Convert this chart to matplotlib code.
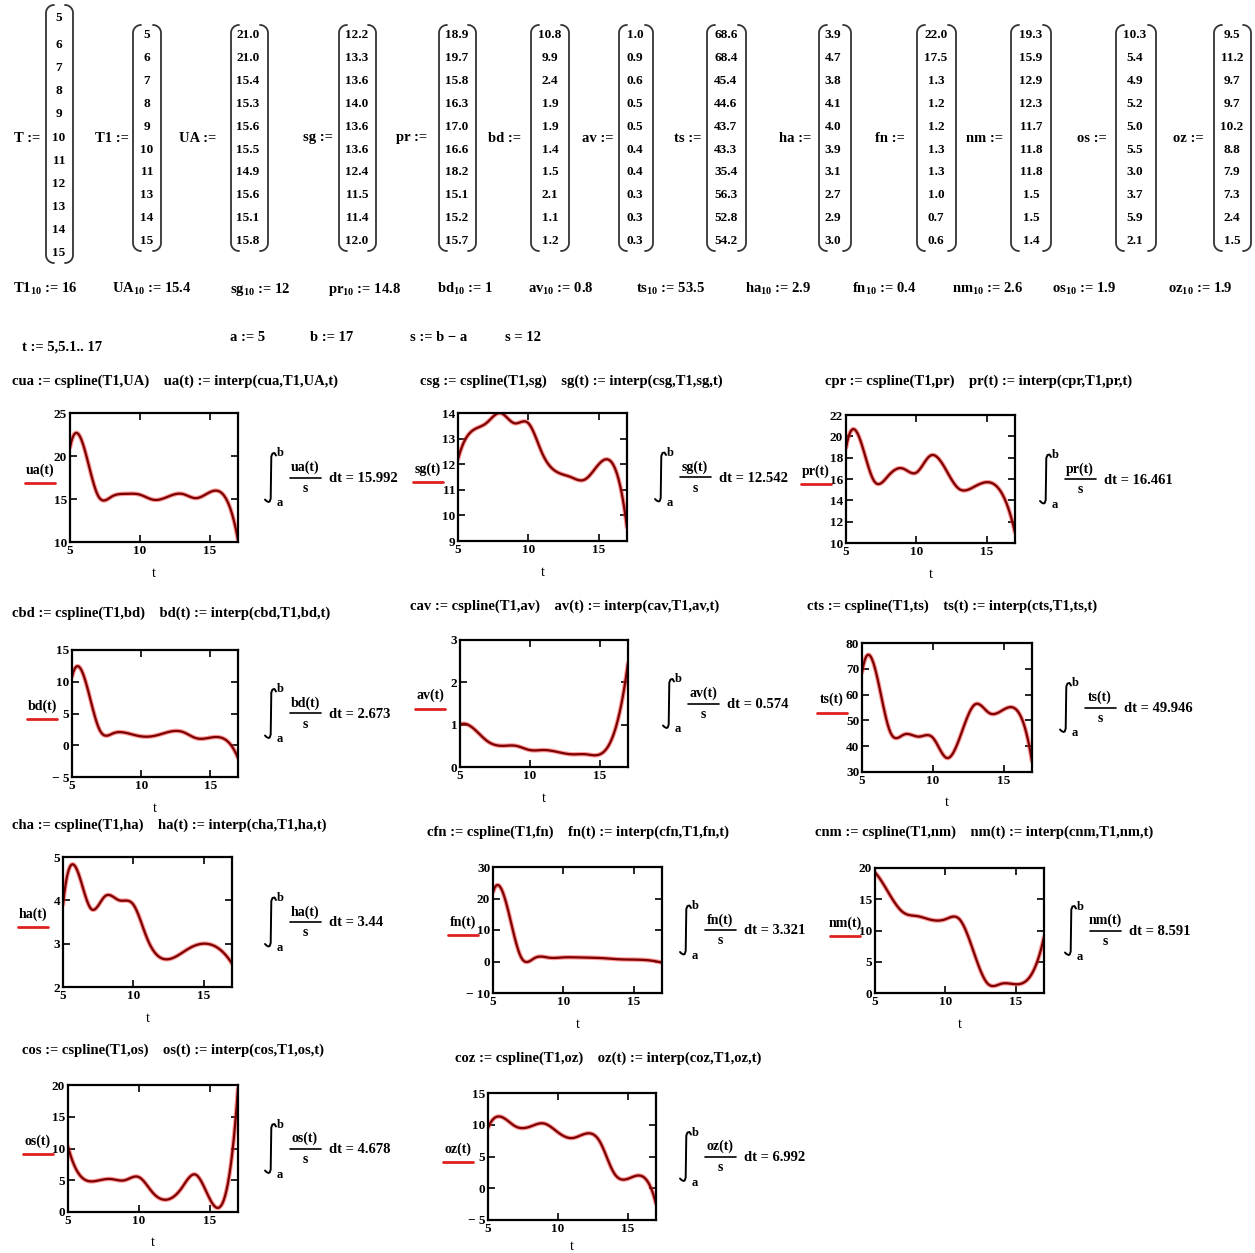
import numpy as np
import matplotlib
matplotlib.use("Agg")
import matplotlib.pyplot as plt
from matplotlib.lines import Line2D

plt.rcParams['font.family'] = ['Liberation Serif', 'DejaVu Serif']
plt.rcParams['font.weight'] = 'bold'
plt.rcParams['mathtext.fontset'] = 'custom'
plt.rcParams['mathtext.rm'] = 'Liberation Serif:bold'
plt.rcParams['mathtext.it'] = 'Liberation Serif:bold'
plt.rcParams['mathtext.bf'] = 'Liberation Serif:bold'

# datos
T = [5, 6, 7, 8, 9, 10, 11, 12, 13, 14, 15]
T1 = [5, 6, 7, 8, 9, 10, 11, 13, 14, 15]
UA = [21.0, 21.0, 15.4, 15.3, 15.6, 15.5, 14.9, 15.6, 15.1, 15.8]
sg = [12.2, 13.3, 13.6, 14.0, 13.6, 13.6, 12.4, 11.5, 11.4, 12.0]
pr = [18.9, 19.7, 15.8, 16.3, 17.0, 16.6, 18.2, 15.1, 15.2, 15.7]
bd = [10.8, 9.9, 2.4, 1.9, 1.9, 1.4, 1.5, 2.1, 1.1, 1.2]
av = [1.0, 0.9, 0.6, 0.5, 0.5, 0.4, 0.4, 0.3, 0.3, 0.3]
ts = [68.6, 68.4, 45.4, 44.6, 43.7, 43.3, 35.4, 56.3, 52.8, 54.2]
ha = [3.9, 4.7, 3.8, 4.1, 4.0, 3.9, 3.1, 2.7, 2.9, 3.0]
fn = [22.0, 17.5, 1.3, 1.2, 1.2, 1.3, 1.3, 1.0, 0.7, 0.6]
nm = [19.3, 15.9, 12.9, 12.3, 11.7, 11.8, 11.8, 1.5, 1.5, 1.4]
os_ = [10.3, 5.4, 4.9, 5.2, 5.0, 5.5, 3.0, 3.7, 5.9, 2.1]
oz = [9.5, 11.2, 9.7, 9.7, 10.2, 8.8, 7.9, 7.3, 2.4, 1.5]

# valores asignados en el indice 10
nombres = ['T1', 'UA', 'sg', 'pr', 'bd', 'av', 'ts', 'ha', 'fn', 'nm', 'os', 'oz']
extra = [16, 15.4, 12, 14.8, 1, 0.8, 53.5, 2.9, 0.4, 2.6, 1.9, 1.9]
extra_txt = ['16', '15.4', '12', '14.8', '1', '0.8', '53.5', '2.9', '0.4', '2.6', '1.9', '1.9']

integrales = ['15.992', '12.542', '16.461', '2.673', '0.574', '49.946',
              '3.44', '3.321', '8.591', '4.678', '6.992']

a, b = 5, 17
t = np.arange(5, 17.0001, 0.1)

W, H = 1255, 1253
fig = plt.figure(figsize=(12.55, 12.53), dpi=100)


def fx(x):
    return np.asarray(x) / W


def fy(y):
    return 1 - np.asarray(y) / H


def txt(x, y, s, size=10.5, ha='left', va='center', **kw):
    fig.text(fx(x), fy(y), s, fontsize=size, ha=ha, va=va, **kw)


def linea(xs, ys, color='black', lw=1.0):
    fig.add_artist(Line2D(fx(xs), fy(ys), transform=fig.transFigure, color=color, lw=lw,
                          solid_capstyle='round'))


def cspline(x, y):
    # spline cubico "not-a-knot"
    x = np.asarray(x, float)
    y = np.asarray(y, float)
    n = len(x)
    h = np.diff(x)
    A = np.zeros((n, n))
    r = np.zeros(n)
    for i in range(1, n - 1):
        A[i, i - 1] = h[i - 1]
        A[i, i] = 2 * (h[i - 1] + h[i])
        A[i, i + 1] = h[i]
        r[i] = 6 * ((y[i + 1] - y[i]) / h[i] - (y[i] - y[i - 1]) / h[i - 1])
    A[0, 0], A[0, 1], A[0, 2] = h[1], -(h[0] + h[1]), h[0]
    A[-1, -3], A[-1, -2], A[-1, -1] = h[-1], -(h[-2] + h[-1]), h[-2]
    M = np.linalg.solve(A, r)
    return x, y, M


def interp(c, tt):
    x, y, M = c
    i = np.clip(np.searchsorted(x, tt) - 1, 0, len(x) - 2)
    hh = x[i + 1] - x[i]
    u = x[i + 1] - tt
    v = tt - x[i]
    return (M[i] * u**3 / (6 * hh) + M[i + 1] * v**3 / (6 * hh)
            + (y[i] / hh - M[i] * hh / 6) * u + (y[i + 1] / hh - M[i + 1] * hh / 6) * v)


def paren(x0, x1, y0, y1):
    # parentesis de matriz
    r = 8
    for xe, sgn in ((x0, 1), (x1, -1)):
        th = np.linspace(np.pi / 2, np.pi, 20)
        top_x = xe + sgn * r + sgn * r * np.cos(th)
        top_y = y0 + r - r * np.sin(th)
        th2 = np.linspace(np.pi, 3 * np.pi / 2, 20)
        bot_x = xe + sgn * r + sgn * r * np.cos(th2)
        bot_y = y1 - r - r * np.sin(th2)
        linea(np.concatenate([top_x, bot_x]), np.concatenate([top_y, bot_y]),
              color='#333333', lw=1.3)


def integral(x, y, fname, val):
    # signo de integral dibujado a mano
    ix = [x + 11, x + 9.5, x + 7.5, x + 6.3, x + 5.7, x + 4.7, x + 3.5, x + 1.5, x]
    iy = [y - 22, y - 24.5, y - 24, y - 21, y + 21, y + 24, y + 24.5, y + 23.5, y + 22]
    linea(ix, iy, lw=1.4)
    txt(x + 12, y - 24, 'b', size=9)
    txt(x + 12, y + 26, 'a', size=9)
    txt(x + 40, y - 10, fname + '(t)', size=10, ha='center')
    linea([x + 25, x + 56], [y, y], lw=1.2)
    txt(x + 40, y + 11, 's', size=10, ha='center')
    txt(x + 64, y + 1, 'dt = ' + val, size=10.5)


# matrices
filas11 = [18, 45, 68, 91, 114, 138, 161, 184, 207, 230, 253]
filas10 = [35, 58, 81, 104, 127, 150, 172, 195, 218, 241]
mats = [('T :=', T, 27, 59, 46, 73, '{:d}'),
        ('T1 :=', T1, 112, 147, 133, 161, '{:d}'),
        ('UA :=', UA, 198, 248, 231, 268, '{:.1f}'),
        ('sg :=', sg, 318, 357, 339, 376, '{:.1f}'),
        ('pr :=', pr, 412, 457, 439, 476, '{:.1f}'),
        ('bd :=', bd, 505, 550, 531, 569, '{:.1f}'),
        ('av :=', av, 598, 635, 619, 653, '{:.1f}'),
        ('ts :=', ts, 688, 726, 707, 746, '{:.1f}'),
        ('ha :=', ha, 795, 833, 819, 851, '{:.1f}'),
        ('fn :=', fn, 890, 936, 917, 956, '{:.1f}'),
        ('nm :=', nm, 985, 1031, 1011, 1051, '{:.1f}'),
        ('os :=', os_, 1092, 1135, 1116, 1156, '{:.1f}'),
        ('oz :=', oz, 1188, 1232, 1214, 1251, '{:.1f}')]
for lab, vals, xl, xv, p0, p1, f in mats:
    txt(xl, 138, lab, ha='center')
    filas = filas11 if len(vals) == 11 else filas10
    for yy, v in zip(filas, vals):
        txt(xv, yy, f.format(v), size=9.5, ha='center')
    if len(vals) == 11:
        paren(p0, p1, 5, 263)
    else:
        paren(p0, p1, 25, 251)

# asignaciones del indice 10
xs_sub = [13, 112, 230, 328, 437, 528, 636, 745, 852, 952, 1052, 1168]
for nom, xx, val in zip(nombres, xs_sub, extra_txt):
    txt(xx, 289, nom + r'$_{10}$ := ' + val)

txt(22, 347, 't := 5,5.1.. 17')
txt(230, 338, 'a := 5')
txt(310, 338, 'b := 17')
txt(410, 338, 's := b \u2212 a')
txt(505, 338, 's = 12')

# graficas
plots = [
    ('ua', 'UA', UA, (70, 238, 413, 542), (10, 25), [10, 15, 20, 25], (12, 381), 'cua', 265),
    ('sg', 'sg', sg, (458, 627, 413, 541), (9, 14), [9, 10, 11, 12, 13, 14], (420, 381), 'csg', 655),
    ('pr', 'pr', pr, (846, 1015, 415, 543), (10, 22), [10, 12, 14, 16, 18, 20, 22], (825, 381), 'cpr', 1040),
    ('bd', 'bd', bd, (72, 238, 650, 777), (-5, 15), [-5, 0, 5, 10, 15], (12, 613), 'cbd', 265),
    ('av', 'av', av, (460, 628, 640, 767), (0, 3), [0, 1, 2, 3], (410, 606), 'cav', 663),
    ('ts', 'ts', ts, (862, 1032, 643, 772), (30, 80), [30, 40, 50, 60, 70, 80], (807, 606), 'cts', 1060),
    ('ha', 'ha', ha, (63, 232, 857, 987), (2, 5), [2, 3, 4, 5], (12, 825), 'cha', 265),
    ('fn', 'fn', fn, (493, 662, 867, 993), (-10, 30), [-10, 0, 10, 20, 30], (427, 832), 'cfn', 680),
    ('nm', 'nm', nm, (875, 1044, 868, 993), (0, 20), [0, 5, 10, 15, 20], (815, 832), 'cnm', 1065),
    ('os', 'os', os_, (68, 238, 1085, 1212), (0, 20), [0, 5, 10, 15, 20], (22, 1050), 'cos', 265),
    ('oz', 'oz', oz, (488, 656, 1093, 1220), (-5, 15), [-5, 0, 5, 10, 15], (455, 1058), 'coz', 680),
]

xs = np.array(T1 + [extra[0]], float)
for k, (fname, vname, vals, box, ylim, yt, defpos, cname, xint) in enumerate(plots):
    x0, x1, y0, y1 = box
    ys = np.array(vals + [extra[nombres.index(vname)]], float)
    yv = interp(cspline(xs, ys), t)

    ax = fig.add_axes([fx(x0), fy(y1), (x1 - x0) / W, (y1 - y0) / H])
    ax.plot(t, yv, color='#ff3030', lw=3.2, alpha=0.5, solid_capstyle='round')
    ax.plot(t, yv, color='#7a0000', lw=1.6)
    ax.set_xlim(5, 17)
    ax.set_ylim(*ylim)
    ax.set_xticks([5, 10, 15])
    ax.set_yticks(yt)
    ax.set_yticklabels(['\u2212 ' + str(-v) if v < 0 else str(v) for v in yt])
    ax.tick_params(direction='in', top=True, right=True, length=5, width=1.2,
                   labelsize=9.5, pad=2)
    for sp in ax.spines.values():
        sp.set_linewidth(1.6)
    ax.set_xlabel('t', fontsize=10, labelpad=4 if fname == 'oz' else 7)

    # etiqueta del eje y con subrayado rojo
    ly = (y0 + y1) / 2
    lx = x0 - 30
    txt(lx, ly - 1, fname + '(t)', size=10, ha='center', va='bottom')
    linea([lx - 15, lx + 15], [ly + 5, ly + 5], color='#e02020', lw=2)

    # definicion
    dx, dy = defpos
    txt(dx, dy, '%s := cspline(T1,%s)    %s(t) := interp(%s,T1,%s,t)' % (cname, vname, fname, cname, vname))

    integral(xint, ly, fname, integrales[k])

fig.savefig('out.png', dpi=100, facecolor='white')
